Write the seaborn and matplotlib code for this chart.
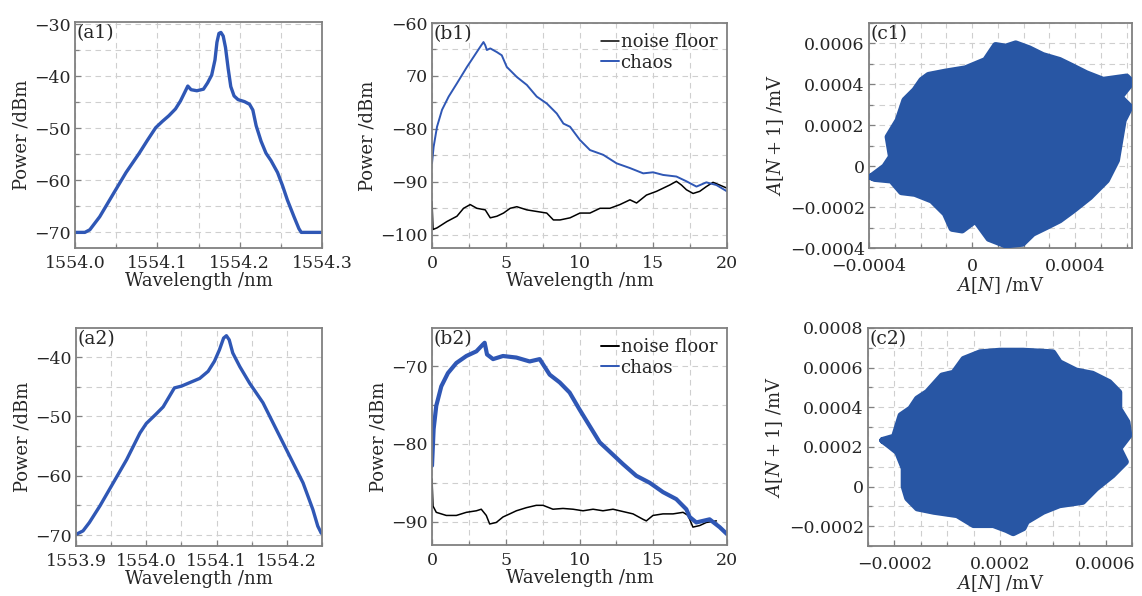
import numpy as np
import pandas as pd
import matplotlib
matplotlib.use("Agg")
import matplotlib.pyplot as plt
from matplotlib.ticker import MultipleLocator, FixedLocator, FuncFormatter
import seaborn as sns

# ---------------- data ----------------
A1_WL = [1554.000, 1554.012, 1554.018, 1554.030, 1554.048, 1554.062, 1554.078, 1554.088,
         1554.098, 1554.106, 1554.114, 1554.122, 1554.128, 1554.133, 1554.137, 1554.141,
         1554.148, 1554.156, 1554.161, 1554.166, 1554.170, 1554.1724, 1554.1748, 1554.1772,
         1554.180, 1554.1828, 1554.186, 1554.1892, 1554.1932, 1554.198, 1554.206, 1554.212,
         1554.216, 1554.220, 1554.226, 1554.232, 1554.238, 1554.246, 1554.252, 1554.258,
         1554.266, 1554.272, 1554.2748, 1554.300]
A1_P = [-70.0, -70.0, -69.5, -67.0, -62.2, -58.5, -54.8, -52.3,
        -49.9, -48.7, -47.6, -46.3, -44.8, -43.2, -41.9, -42.6,
        -42.8, -42.5, -41.3, -39.8, -36.9, -33.5, -31.8, -31.6,
        -32.3, -34.5, -38.5, -42.0, -43.8, -44.5, -44.9, -45.4,
        -46.5, -49.5, -52.5, -54.8, -56.2, -58.5, -61.0, -63.8,
        -67.0, -69.3, -70.0, -70.0]

A2_WL = [1553.900, 1553.910, 1553.919, 1553.934, 1553.953, 1553.972, 1553.991, 1554.000,
         1554.014, 1554.024, 1554.033, 1554.040, 1554.050, 1554.062, 1554.076, 1554.088,
         1554.097, 1554.104, 1554.110, 1554.114, 1554.118, 1554.123, 1554.133, 1554.147,
         1554.166, 1554.185, 1554.204, 1554.223, 1554.237, 1554.244, 1554.249]
A2_P = [-69.9, -69.3, -67.9, -65.1, -61.2, -57.3, -52.8, -51.2,
        -49.6, -48.4, -46.6, -45.2, -44.9, -44.3, -43.6, -42.4,
        -40.7, -38.8, -36.8, -36.4, -37.1, -39.3, -41.6, -44.4,
        -47.7, -52.2, -56.7, -61.2, -65.7, -68.5, -69.7]

B1_CH_WL = [0.0, 0.11, 0.34, 0.68, 1.13, 1.69, 2.37, 2.82, 3.27, 3.49, 3.61, 3.72, 3.95,
            4.40, 4.73, 5.07, 5.75, 6.43, 7.10, 7.78, 8.46, 8.91, 9.36, 10.03, 10.71,
            11.61, 12.51, 13.42, 14.32, 14.99, 15.67, 16.57, 17.25, 17.93, 18.60, 19.28, 20.0]
B1_CH_P = [-86.5, -83.4, -79.6, -76.4, -73.9, -71.4, -68.3, -66.4, -64.5, -63.6, -64.2, -65.1, -64.8,
           -65.5, -66.1, -68.3, -70.2, -71.7, -73.9, -75.2, -77.1, -79.0, -79.6, -82.1, -84.0,
           -84.9, -86.5, -87.4, -88.4, -88.2, -88.7, -89.0, -89.9, -90.9, -90.1, -90.6, -91.8]

B1_NF_WL = [0.0, 0.07, 0.34, 1.01, 1.69, 2.14, 2.59, 3.04, 3.61, 3.95, 4.40, 4.85, 5.30,
            5.75, 6.43, 7.10, 7.78, 8.23, 8.68, 9.36, 10.03, 10.71, 11.39, 12.06, 12.74,
            13.42, 13.87, 14.54, 15.22, 15.67, 16.12, 16.57, 16.91, 17.25, 17.70, 18.15,
            18.60, 19.05, 19.50, 20.0]
B1_NF_P = [-93.7, -99.0, -98.7, -97.5, -96.5, -95.0, -94.3, -95.0, -95.3, -96.8, -96.5, -95.9, -95.0,
           -94.7, -95.3, -95.6, -95.9, -97.2, -97.2, -96.8, -95.9, -95.9, -95.0, -95.0, -94.3,
           -93.4, -94.0, -92.5, -91.8, -91.2, -90.6, -89.9, -90.6, -91.5, -92.2, -91.8,
           -90.9, -90.1, -90.6, -91.2]

B2_CH_WL = [0.0, 0.11, 0.29, 0.63, 1.08, 1.65, 2.33, 3.01, 3.46, 3.57, 3.73, 4.14, 4.81,
            5.72, 6.62, 7.30, 7.98, 8.66, 9.33, 10.01, 10.69, 11.37, 12.05, 12.95, 13.85,
            14.76, 15.66, 16.56, 17.24, 17.47, 17.92, 18.82, 19.50, 20.0]
B2_CH_P = [-82.8, -78.1, -75.1, -72.6, -70.9, -69.6, -68.7, -68.1, -67.2, -67.0, -68.5, -69.1, -68.7,
           -68.9, -69.4, -69.1, -71.1, -72.1, -73.4, -75.6, -77.7, -79.8, -81.0, -82.6, -84.1,
           -85.0, -86.2, -87.1, -88.4, -89.4, -90.1, -89.7, -90.7, -91.6]

B2_NF_WL = [0.0, 0.07, 0.29, 0.97, 1.65, 2.33, 3.01, 3.34, 3.68, 3.91, 4.36, 4.81, 5.27,
            5.72, 6.40, 7.07, 7.53, 8.20, 8.88, 9.56, 10.24, 10.92, 11.59, 12.27, 12.95,
            13.63, 14.31, 14.53, 14.98, 15.66, 16.34, 17.02, 17.36, 17.69, 18.15, 18.60, 19.28]
B2_NF_P = [-84.5, -88.0, -88.8, -89.2, -89.2, -88.8, -88.6, -88.4, -89.2, -90.3, -90.1, -89.4, -89.0,
           -88.6, -88.2, -87.9, -87.9, -88.4, -88.3, -88.4, -88.6, -88.4, -88.6, -88.4, -88.7,
           -89.0, -89.7, -89.9, -89.2, -89.0, -89.0, -88.8, -89.2, -90.7, -90.5, -90.1, -89.9]

# attractor outlines, in units of 1e-4 mV
C1_X = [-3.91, -3.39, -3.13, -3.26, -2.87, -2.61, -2.22, -1.95, -1.69, -1.04, -0.26, 0.52,
        0.91, 1.30, 1.69, 2.21, 2.74, 3.39, 3.91, 4.43, 5.08, 5.99, 6.19, 5.73, 6.12, 5.86,
        5.73, 5.60, 5.21, 4.56, 3.91, 3.39, 2.87, 2.35, 1.95, 1.30, 0.65, 0.13, -0.39, -0.78,
        -1.04, -1.56, -2.22, -2.74, -3.13, -3.78, -3.91]
C1_Y = [-0.52, -0.03, 0.46, 1.43, 2.24, 3.22, 3.71, 4.20, 4.44, 4.60, 4.76, 5.17,
        5.90, 5.82, 5.98, 5.74, 5.41, 5.17, 4.85, 4.52, 4.20, 4.36, 4.11, 3.38, 2.89, 2.24,
        1.27, 0.29, -0.68, -1.50, -2.15, -2.63, -2.96, -3.28, -3.77, -3.85, -3.53, -2.63, -3.12, -3.04,
        -2.31, -1.66, -1.33, -1.25, -0.68, -0.60, -0.52]

C2_X = [-2.44, -2.00, -1.75, -1.38, -1.13, -0.75, -0.19, 0.25, 0.63, 1.25, 2.00, 2.88,
        4.00, 4.25, 4.88, 5.50, 6.13, 6.50, 6.50, 6.81, 6.88, 6.50, 6.75, 6.25, 5.63, 5.13,
        4.25, 3.63, 3.00, 2.88, 2.50, 2.25, 1.75, 1.00, 0.38, -0.50, -1.13, -1.50, -1.63,
        -1.63, -1.88, -2.19, -2.44]
C2_Y = [2.33, 2.50, 3.58, 3.92, 4.42, 4.75, 5.58, 5.72, 6.42, 6.75, 6.83, 6.83,
        6.75, 6.25, 5.83, 5.67, 5.25, 4.75, 3.92, 3.25, 2.58, 1.92, 1.25, 0.58, -0.08, -0.75,
        -0.92, -1.25, -1.75, -2.08, -2.33, -2.17, -1.92, -1.92, -1.42, -1.25, -1.08, -0.58, 0.00,
        0.92, 1.75, 2.08, 2.33]

PANEL_LABELS = ["(a1)", "(b1)", "(c1)", "(a2)", "(b2)", "(c2)"]
LEGEND_LABELS = ["noise floor", "chaos"]

# ---------------- style ----------------
sns.set_theme(style="white")
plt.rcParams["font.family"] = ["DejaVu Serif"]
plt.rcParams["mathtext.fontset"] = "dejavuserif"
plt.rcParams["axes.unicode_minus"] = True

BLUE_LINE = "#2f57b5"
BLUE_BLOB = "#2856a4"
SPINE = "#808080"
GRID = "#cfcfcf"
FS_TICK = 12.5
FS_LAB = 13
FS_LEG = 13
FS_PANEL = 13.5
MINUS = "\u2212"

fig = plt.figure(figsize=(11.42, 5.96), dpi=100)
W, H = 1142, 596


def add_ax(l, r, t, b):
    return fig.add_axes([l / W, 1 - b / H, (r - l) / W, (b - t) / H])


def style(ax, xmaj, xmin, ymaj, ymin):
    ax.xaxis.set_major_locator(xmaj)
    ax.xaxis.set_minor_locator(MultipleLocator(xmin))
    ax.yaxis.set_major_locator(ymaj)
    ax.yaxis.set_minor_locator(MultipleLocator(ymin))
    ax.grid(True, which="both", color=GRID, linestyle=(0, (5, 4)), linewidth=0.8)
    ax.set_axisbelow(True)
    for s in ax.spines.values():
        s.set_color(SPINE)
        s.set_linewidth(1.3)
    ax.tick_params(which="both", direction="in", color=SPINE, length=3, width=0.9,
                   labelsize=FS_TICK, bottom=True, left=True, top=False, right=False)
    ax.tick_params(which="major", length=4)
    ax.tick_params(axis="x", which="major", pad=5)
    ax.tick_params(axis="y", which="major", pad=3)


def fmt_num(dec):
    def f(v, pos):
        if abs(v) < 1e-12:
            return "0"
        s = f"{abs(v):.{dec}f}"
        return (MINUS + s) if v < 0 else s
    return FuncFormatter(f)


def panel_label(ax, txt):
    ax.text(0.005, 0.99, txt, transform=ax.transAxes, ha="left", va="top", fontsize=FS_PANEL)


def spectrum(ax, x, y, color, lw):
    sns.lineplot(x=x, y=y, ax=ax, color=color, lw=lw, sort=False, estimator=None)


def labels(ax, xl, yl):
    ax.set_xlabel(xl, fontsize=FS_LAB, labelpad=0)
    ax.set_ylabel(yl, fontsize=FS_LAB, labelpad=3)


# ---- (a1)
ax = add_ax(75, 322, 22, 248)
spectrum(ax, A1_WL, A1_P, BLUE_LINE, 2.4)
ax.set_xlim(1554.0, 1554.3)
ax.set_ylim(-73, -29.6)
style(ax, MultipleLocator(0.1), 0.05, MultipleLocator(10), 5)
ax.xaxis.set_major_formatter(fmt_num(1))
ax.yaxis.set_major_formatter(fmt_num(0))
labels(ax, "Wavelength /nm", "Power /dBm")
panel_label(ax, PANEL_LABELS[0])

# ---- (a2)
ax = add_ax(76, 322, 328, 546)
spectrum(ax, A2_WL, A2_P, BLUE_LINE, 2.4)
ax.set_xlim(1553.9, 1554.25)
ax.set_ylim(-71.85, -35.1)
style(ax, FixedLocator([1553.9, 1554.0, 1554.1, 1554.2]), 0.05, MultipleLocator(10), 5)
ax.xaxis.set_major_formatter(fmt_num(1))
ax.yaxis.set_major_formatter(fmt_num(0))
labels(ax, "Wavelength /nm", "Power /dBm")
panel_label(ax, PANEL_LABELS[3])

# ---- (b1)
ax = add_ax(432, 727, 23, 248)
sns.lineplot(x=B1_NF_WL, y=B1_NF_P, ax=ax, color="black", lw=1.1, sort=False,
             estimator=None, label=LEGEND_LABELS[0])
sns.lineplot(x=B1_CH_WL, y=B1_CH_P, ax=ax, color=BLUE_LINE, lw=1.4, sort=False,
             estimator=None, label=LEGEND_LABELS[1])
ax.set_xlim(0, 20)
ax.set_ylim(-102.5, -60)
style(ax, MultipleLocator(5), 2.5, FixedLocator([-100, -90, -80, -70, -60]), 5)
ax.set_yticklabels([MINUS + "100", MINUS + "90", MINUS + "80", "70", MINUS + "60"])
labels(ax, "Wavelength /nm", "Power /dBm")
ax.legend(loc="upper right", frameon=False, fontsize=FS_LEG, handlelength=1.0,
          handletextpad=0.1, borderaxespad=0.15, labelspacing=0.15)
panel_label(ax, PANEL_LABELS[1])

# ---- (b2)
ax = add_ax(432, 727, 328, 545)
sns.lineplot(x=B2_NF_WL, y=B2_NF_P, ax=ax, color="black", lw=1.1, sort=False,
             estimator=None, label=LEGEND_LABELS[0])
sns.lineplot(x=B2_CH_WL, y=B2_CH_P, ax=ax, color=BLUE_LINE, lw=3.0, sort=False,
             estimator=None, label=LEGEND_LABELS[1])
ax.set_xlim(0, 20)
ax.set_ylim(-93, -65.1)
style(ax, MultipleLocator(5), 2.5, FixedLocator([-90, -80, -70]), 5)
ax.yaxis.set_major_formatter(fmt_num(0))
labels(ax, "Wavelength /nm", "Power /dBm")
leg = ax.legend(loc="upper right", frameon=False, fontsize=FS_LEG, handlelength=1.0,
                handletextpad=0.1, borderaxespad=0.15, labelspacing=0.15)
for h in leg.get_lines():
    h.set_linewidth(1.4)
panel_label(ax, PANEL_LABELS[4])


def attractor(ax, xs, ys):
    x = np.array(xs) * 1e-4
    y = np.array(ys) * 1e-4
    ax.fill(x, y, color=BLUE_BLOB, zorder=2)
    sns.lineplot(x=x, y=y, ax=ax, color=BLUE_BLOB, lw=5, sort=False, estimator=None,
                 zorder=3, solid_joinstyle="round", solid_capstyle="round")


# ---- (c1)
ax = add_ax(869, 1132, 23, 248)
attractor(ax, C1_X, C1_Y)
ax.set_xlim(-0.0004, 0.00062)
ax.set_ylim(-0.0004, 0.0007)
style(ax, FixedLocator([-0.0004, 0, 0.0004]), 0.0001,
      FixedLocator([-0.0004, -0.0002, 0, 0.0002, 0.0004, 0.0006]), 0.0001)
ax.xaxis.set_major_formatter(fmt_num(4))
ax.yaxis.set_major_formatter(fmt_num(4))
ax.tick_params(axis="x", which="major", pad=7)
labels(ax, "$A[N]$ /mV", "$A[N+1]$ /mV")
panel_label(ax, PANEL_LABELS[2])

# ---- (c2)
ax = add_ax(868, 1132, 328, 546)
attractor(ax, C2_X, C2_Y)
ax.set_xlim(-0.0003, 0.0007)
ax.set_ylim(-0.0003, 0.0008)
style(ax, FixedLocator([-0.0002, 0.0002, 0.0006]), 0.0001,
      FixedLocator([-0.0002, 0, 0.0002, 0.0004, 0.0006, 0.0008]), 0.0001)
ax.xaxis.set_major_formatter(fmt_num(4))
ax.yaxis.set_major_formatter(fmt_num(4))
ax.tick_params(axis="x", which="major", pad=7)
labels(ax, "$A[N]$ /mV", "$A[N+1]$ /mV")
panel_label(ax, PANEL_LABELS[5])

fig.savefig("out.png", dpi=100)
